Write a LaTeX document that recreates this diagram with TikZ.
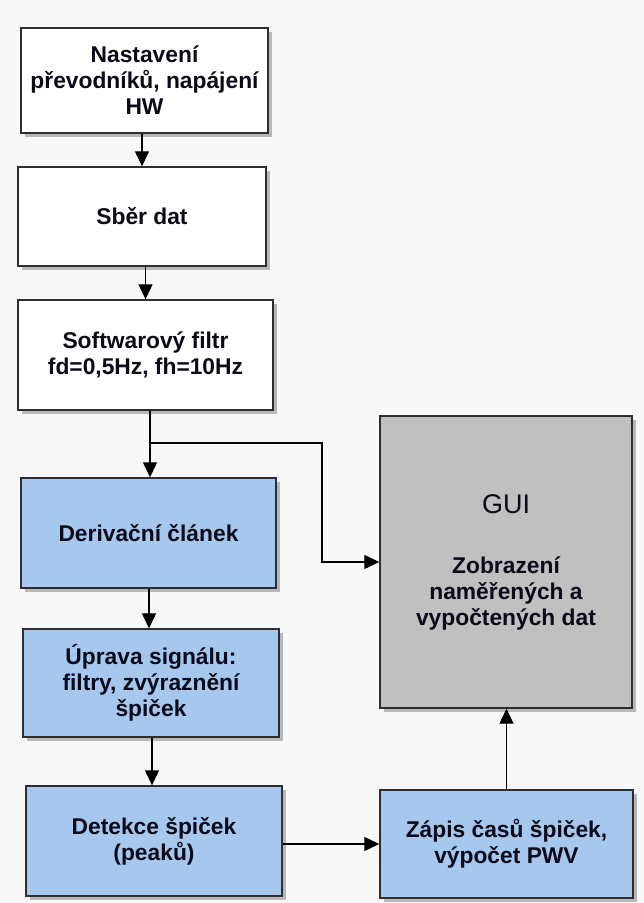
\documentclass[tikz,border=0pt]{standalone}
\usepackage{fontspec}
\setmainfont{Liberation Sans}
\usetikzlibrary{arrows.meta,shadows}

\definecolor{pagebg}{RGB}{248,248,248}
\definecolor{boxblue}{RGB}{166,200,238}
\definecolor{boxgray}{RGB}{192,192,192}
\definecolor{edge}{RGB}{45,45,50}
\definecolor{inktext}{RGB}{10,10,25}

\tikzset{
  block/.style={draw=edge, line width=1.4pt, align=center, inner sep=2pt,
    text=inktext, font=\bfseries\fontsize{22.8}{26}\selectfont,
    drop shadow={shadow xshift=4pt, shadow yshift=-4pt, fill=black!28, opacity=1}},
  whitebox/.style={block, fill=white},
  bluebox/.style={block, fill=boxblue},
  graybox/.style={block, fill=boxgray},
  arr/.style={draw=black, line width=1.2pt, -{Triangle[length=15pt,width=14pt]}},
}

\begin{document}
\begin{tikzpicture}[x=1pt, y=-1pt]
  % page background and fixed frame
  \fill[pagebg] (0,0) rectangle (644,903);
  \useasboundingbox (0,0) rectangle (644,903);

  % processing chain, left column
  \node[whitebox, minimum width=247pt, minimum height=105pt] (hw) at (144.5,80.5)
    {Nastavení\\převodníků, napájení\\HW};
  \node[whitebox, minimum width=248pt, minimum height=99pt] (sber) at (142,216.5)
    {Sběr dat};
  \node[whitebox, minimum width=255pt, minimum height=110pt] (filtr) at (145.5,355)
    {Softwarový filtr\\fd=0,5Hz, fh=10Hz};
  \node[bluebox, minimum width=255pt, minimum height=110pt] (deriv) at (148.5,533)
    {Derivační článek};
  \node[bluebox, minimum width=256pt, minimum height=108pt] (uprava) at (151,683)
    {Úprava signálu:\\filtry, zvýraznění\\špiček};
  \node[bluebox, minimum width=256pt, minimum height=110pt] (detekce) at (154,841)
    {Detekce špiček\\(peaků)};

  % right column
  \node[bluebox, minimum width=253pt, minimum height=108pt] (zapis) at (506.5,844)
    {Zápis časů špiček,\\výpočet PWV};
  \node[graybox, minimum width=252pt, minimum height=292pt] (gui) at (506,562)
    {{\mdseries\fontsize{27}{30}\selectfont GUI}\\[34pt]Zobrazení\\naměřených a\\vypočtených dat};

  % connectors
  \draw[arr] (sber.north |- hw.south) -- (sber.north);
  \draw[arr] (filtr.north |- sber.south) -- (filtr.north);
  \coordinate (split) at (150,443);
  \coordinate (bend) at (322,443);
  \draw[arr] (split |- filtr.south) -- (split |- deriv.north);
  \draw[line width=1.2pt, -{Triangle[length=15pt,width=14pt]}]
    (split) -- (bend) -- (bend |- gui.west) -- (gui.west);
  \draw[arr] (deriv.south -| 149,0) -- (uprava.north -| 149,0);
  \draw[arr] (uprava.south -| 152,0) -- (detekce.north -| 152,0);
  \draw[arr] (detekce.east |- zapis.west) -- (zapis.west);
  \draw[arr] (zapis.north) -- (gui.south -| zapis.north);
\end{tikzpicture}
\end{document}
